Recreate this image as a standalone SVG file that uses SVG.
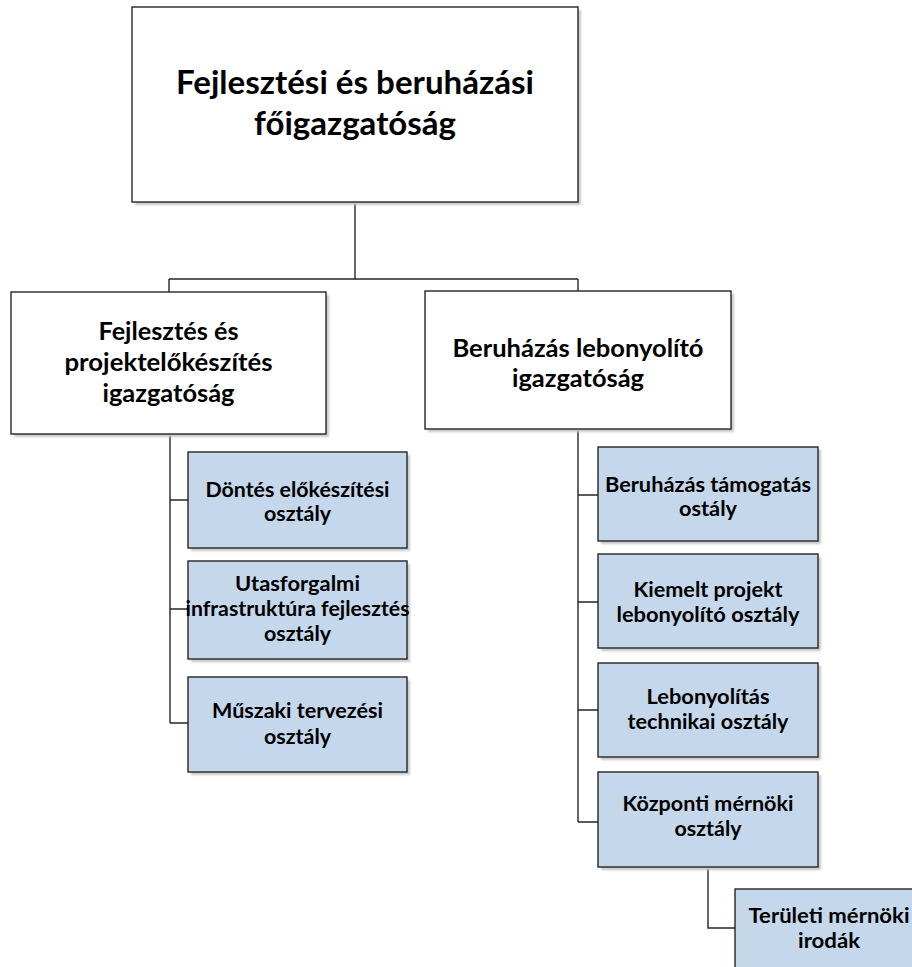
<svg xmlns="http://www.w3.org/2000/svg" width="912" height="967" viewBox="0 0 912 967">
  <style>
    .box { fill: #ffffff; stroke: #262626; stroke-width: 1.4; }
    .unit { fill: #c5d7ea; stroke: #262626; stroke-width: 1.4; }
    .shadow { fill: #c8c8c8; filter: url(#soft); }
    .link { fill: none; stroke: #262626; stroke-width: 1.4; }
    text { font-family: Lato, "Liberation Sans", sans-serif; font-weight: bold; fill: #000000; text-anchor: middle; }
    .t1 { font-size: 32px; }
    .t2 { font-size: 25px; }
    .t3 { font-size: 21px; }
  </style>
  <defs>
    <filter id="soft" x="-5%" y="-5%" width="110%" height="110%">
      <feGaussianBlur stdDeviation="0.8"/>
    </filter>
  </defs>
  <rect width="912" height="967" fill="#ffffff"/>

  <!-- connectors -->
  <g id="connectors">
    <path class="link" d="M355 202 V279 M169 279 H578 M169 279 V292 M578 279 V291"/>
    <path class="link" d="M170 434 V723 M170 500 H188 M170 609 H188 M170 723 H188"/>
    <path class="link" d="M578 429 V822 M578 495 H598 M578 602 H598 M578 710 H598 M578 822 H598"/>
    <path class="link" d="M708 867 V928 H735"/>
  </g>

  <!-- top level -->
  <g id="n-foigazgatosag">
    <rect class="shadow" x="135" y="10" width="446" height="195"/>
    <rect class="box" x="132" y="7" width="446" height="195"/>
    <text class="t1" x="355" y="94" textLength="358" lengthAdjust="spacingAndGlyphs">Fejlesztési és beruházási</text>
    <text class="t1" x="355" y="135" textLength="202" lengthAdjust="spacingAndGlyphs">főigazgatóság</text>
  </g>

  <!-- second level -->
  <g id="n-fejlesztes">
    <rect class="shadow" x="14" y="295" width="315" height="142"/>
    <rect class="box" x="11" y="292" width="315" height="142"/>
    <text class="t2" x="168.5" y="340" textLength="140" lengthAdjust="spacingAndGlyphs">Fejlesztés és</text>
    <text class="t2" x="168.5" y="371" textLength="208" lengthAdjust="spacingAndGlyphs">projektelőkészítés</text>
    <text class="t2" x="168.5" y="402" textLength="132" lengthAdjust="spacingAndGlyphs">igazgatóság</text>
  </g>
  <g id="n-beruhazas">
    <rect class="shadow" x="428" y="294" width="306" height="138"/>
    <rect class="box" x="425" y="291" width="306" height="138"/>
    <text class="t2" x="578" y="357" textLength="251" lengthAdjust="spacingAndGlyphs">Beruházás lebonyolító</text>
    <text class="t2" x="578" y="387" textLength="132" lengthAdjust="spacingAndGlyphs">igazgatóság</text>
  </g>

  <!-- departments, left branch -->
  <g id="n-dontes">
    <rect class="shadow" x="191" y="455" width="219" height="96"/>
    <rect class="unit" x="188" y="452" width="219" height="96"/>
    <text class="t3" x="297.5" y="497" textLength="184" lengthAdjust="spacingAndGlyphs">Döntés előkészítési</text>
    <text class="t3" x="297.5" y="521" textLength="67" lengthAdjust="spacingAndGlyphs">osztály</text>
  </g>
  <g id="n-utasforgalmi">
    <rect class="shadow" x="191" y="564" width="219" height="98"/>
    <rect class="unit" x="188" y="561" width="219" height="98"/>
    <text class="t3" x="297.5" y="591" textLength="125" lengthAdjust="spacingAndGlyphs">Utasforgalmi</text>
    <text class="t3" x="297.5" y="616" textLength="224" lengthAdjust="spacingAndGlyphs">infrastruktúra fejlesztés</text>
    <text class="t3" x="297.5" y="641" textLength="67" lengthAdjust="spacingAndGlyphs">osztály</text>
  </g>
  <g id="n-muszaki">
    <rect class="shadow" x="191" y="680" width="219" height="95"/>
    <rect class="unit" x="188" y="677" width="219" height="95"/>
    <text class="t3" x="297.5" y="718" textLength="171" lengthAdjust="spacingAndGlyphs">Műszaki tervezési</text>
    <text class="t3" x="297.5" y="744" textLength="67" lengthAdjust="spacingAndGlyphs">osztály</text>
  </g>

  <!-- departments, right branch -->
  <g id="n-tamogatas">
    <rect class="shadow" x="601" y="450" width="220" height="94"/>
    <rect class="unit" x="598" y="447" width="220" height="94"/>
    <text class="t3" x="708" y="492" textLength="206" lengthAdjust="spacingAndGlyphs">Beruházás támogatás</text>
    <text class="t3" x="708" y="516" textLength="58" lengthAdjust="spacingAndGlyphs">ostály</text>
  </g>
  <g id="n-kiemelt">
    <rect class="shadow" x="601" y="557" width="220" height="94"/>
    <rect class="unit" x="598" y="554" width="220" height="94"/>
    <text class="t3" x="708" y="597" textLength="149" lengthAdjust="spacingAndGlyphs">Kiemelt projekt</text>
    <text class="t3" x="708" y="622" textLength="183" lengthAdjust="spacingAndGlyphs">lebonyolító osztály</text>
  </g>
  <g id="n-lebonyolitas">
    <rect class="shadow" x="601" y="666" width="220" height="94"/>
    <rect class="unit" x="598" y="663" width="220" height="94"/>
    <text class="t3" x="708" y="704" textLength="123" lengthAdjust="spacingAndGlyphs">Lebonyolítás</text>
    <text class="t3" x="708" y="729" textLength="161" lengthAdjust="spacingAndGlyphs">technikai osztály</text>
  </g>
  <g id="n-kozponti">
    <rect class="shadow" x="601" y="775" width="220" height="95"/>
    <rect class="unit" x="598" y="772" width="220" height="95"/>
    <text class="t3" x="708" y="811" textLength="171" lengthAdjust="spacingAndGlyphs">Központi mérnöki</text>
    <text class="t3" x="708" y="836" textLength="67" lengthAdjust="spacingAndGlyphs">osztály</text>
  </g>
  <g id="n-teruleti">
    <rect class="unit" x="735" y="889" width="220" height="100"/>
    <text class="t3" x="829" y="923" textLength="161" lengthAdjust="spacingAndGlyphs">Területi mérnöki</text>
    <text class="t3" x="829" y="948" textLength="62" lengthAdjust="spacingAndGlyphs">irodák</text>
  </g>
</svg>
